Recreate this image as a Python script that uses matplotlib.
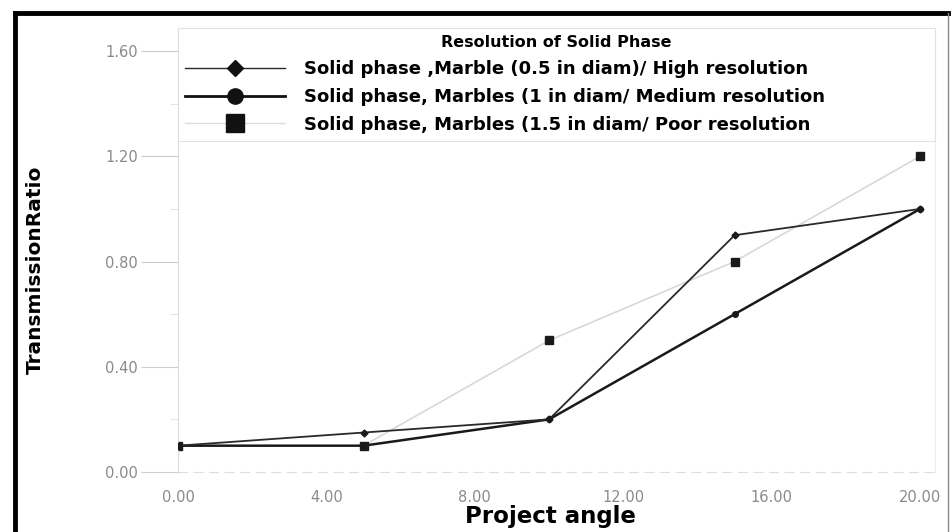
import numpy as np
import matplotlib.pyplot as plt
from matplotlib.lines import Line2D

angle = [0, 5, 10, 15, 20]
high_res = [0.10, 0.15, 0.20, 0.90, 1.00]
medium_res = [0.10, 0.10, 0.20, 0.60, 1.00]
poor_res = [0.10, 0.10, 0.50, 0.80, 1.20]

labels = ['Solid phase ,Marble (0.5 in diam)/ High resolution',
          'Solid phase, Marbles (1 in diam/ Medium resolution',
          'Solid phase, Marbles (1.5 in diam/ Poor resolution']

fig = plt.figure(figsize=(9.52, 5.32), dpi=100)
ax = fig.add_axes([178 / 952, 60 / 532, 757 / 952, 442 / 532])

ax.plot(angle, poor_res, color='#d8d8d8', lw=1.2, marker='s', ms=5.5,
        mfc='#1a1a1a', mec='#1a1a1a', label=labels[2], zorder=2)
ax.plot(angle, medium_res, color='#1a1a1a', lw=1.8, marker='o', ms=4,
        mfc='#1a1a1a', mec='#1a1a1a', label=labels[1], zorder=3)
ax.plot(angle, high_res, color='#2a2a2a', lw=1.3, marker='D', ms=3.5,
        mfc='#1a1a1a', mec='#1a1a1a', label=labels[0], zorder=4)

ax.set_xlim(0, 20.4)
ax.set_ylim(0, 1.68)
ax.set_xticks([0, 4, 8, 12, 16, 20])
ax.set_xticklabels(['%.2f' % v for v in [0, 4, 8, 12, 16, 20]])
ax.set_yticks([0, 0.4, 0.8, 1.2, 1.6])
ax.set_yticklabels(['%.2f' % v for v in [0, 0.4, 0.8, 1.2, 1.6]])
ax.set_yticks([0.2, 0.6, 1.0, 1.4], minor=True)
ax.tick_params(axis='y', which='major', length=27, color='#cccccc', pad=2,
               labelsize=10.5, labelcolor='#8a8a8a')
ax.tick_params(axis='y', which='minor', length=6, color='#dddddd')
ax.tick_params(axis='x', length=0, pad=13, labelsize=10.5, labelcolor='#8a8a8a')

ax.spines['top'].set_visible(False)
ax.spines['left'].set_color('#dddddd')
ax.spines['right'].set_color('#eeeeee')
ax.spines['bottom'].set_color('#dddddd')
ax.spines['bottom'].set_linestyle((0, (8, 6)))

ax.set_xlabel('Project angle', fontsize=16.5, fontweight='bold')
ax.xaxis.set_label_coords(550 / 952, 16 / 532, transform=fig.transFigure)
ax.xaxis.label.set_va('center')
ax.set_ylabel('TransmissionRatio', fontsize=14.5, fontweight='bold')
ax.yaxis.set_label_coords(35 / 952, 262 / 532, transform=fig.transFigure)
ax.yaxis.label.set_va('center')

handles = [
    Line2D([], [], color='#2a2a2a', lw=1.0, marker='D', ms=8, mfc='#111111', mec='#111111'),
    Line2D([], [], color='#111111', lw=2.0, marker='o', ms=11, mfc='#111111', mec='#111111'),
    Line2D([], [], color='#dddddd', lw=1.0, marker='s', ms=13, mfc='#111111', mec='#111111'),
]
leg = ax.legend(handles, labels, title='Resolution of Solid Phase',
                loc='upper left', bbox_to_anchor=(0.0, 0.5, 1.0, 0.505), mode='expand',
                borderaxespad=0, prop={'weight': 'bold', 'size': 13},
                handlelength=5.5, handletextpad=1.1,
                frameon=True, fancybox=False, borderpad=0.4, labelspacing=0.55,
                title_fontproperties={'weight': 'bold', 'size': 11.5})
leg.get_frame().set_edgecolor('#dddddd')
leg.get_frame().set_linewidth(0.8)

fig.add_artist(Line2D([15 / 952, 15 / 952], [0, 1 - 13 / 532], transform=fig.transFigure,
                      color='black', lw=3.5))
fig.add_artist(Line2D([15 / 952, 948 / 952], [1 - 13 / 532, 1 - 13 / 532],
                      transform=fig.transFigure, color='black', lw=3.5))
fig.add_artist(Line2D([948 / 952, 948 / 952], [0, 1 - 13 / 532], transform=fig.transFigure,
                      color='#888888', lw=1))

fig.savefig('out.png', dpi=100)
